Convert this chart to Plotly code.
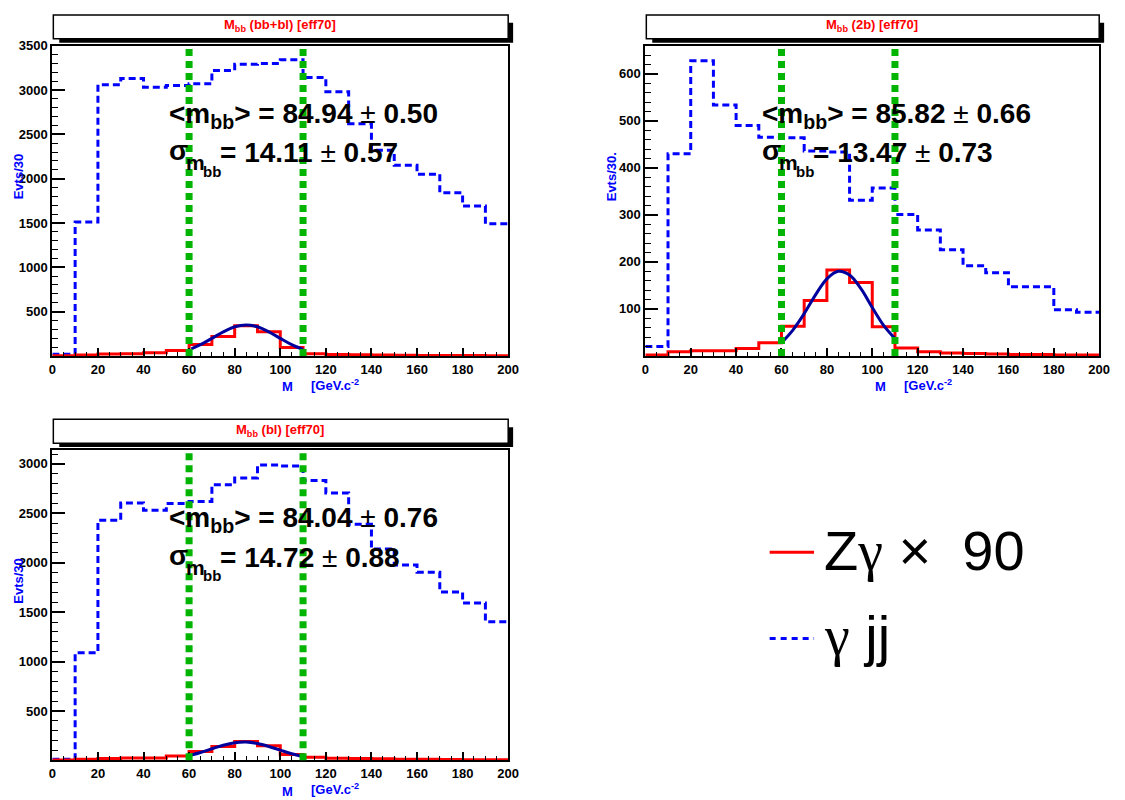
import plotly.graph_objects as go

# ---------------- data ----------------
BIN_EDGES = [0, 10, 20, 30, 40, 50, 60, 70, 80, 90, 100, 110, 120, 130, 140, 150, 160, 170, 180, 190, 200]

# panel 1 : Mbb (bb+bl)
GJJ_BBBL = [20, 1510, 3060, 3130, 3030, 3050, 3070, 3220, 3290, 3300, 3340, 3140, 2980, 2620, 2320, 2150, 2050, 1840, 1690, 1490]
ZG_BBBL = [2, 10, 22, 25, 35, 62, 130, 220, 340, 272, 96, 25, 15, 12, 10, 8, 6, 5, 4, 3]
FIT_BBBL_X = [61, 65, 70, 75, 80, 85, 90, 95, 100, 105, 110]
FIT_BBBL_Y = [80, 127, 198, 271, 329, 350, 329, 271, 198, 127, 73]

# panel 2 : Mbb (2b)
GJJ_2B = [20, 430, 628, 534, 490, 465, 464, 436, 434, 331, 357, 301, 268, 226, 192, 177, 147, 147, 98, 93]
ZG_2B = [2, 9, 11, 11, 16, 28, 63, 118, 183, 156, 62, 17, 9, 6, 5, 4, 3, 3, 2, 2]
FIT_2B_X = [61, 65, 70, 75, 80, 85, 90, 95, 100, 105, 110]
FIT_2B_Y = [33, 55, 90, 130, 164, 180, 172, 143, 103, 65, 37]

# panel 3 : Mbb (bl)
GJJ_BL = [10, 1090, 2430, 2605, 2530, 2600, 2620, 2790, 2857, 2990, 2980, 2833, 2706, 2389, 2138, 1977, 1904, 1704, 1593, 1403]
ZG_BL = [3, 10, 20, 25, 25, 45, 89, 139, 192, 149, 59, 32, 22, 18, 15, 12, 10, 8, 6, 5]
FIT_BL_X = [61, 65, 70, 75, 80, 85, 90, 95, 100, 105, 110]
FIT_BL_Y = [54, 80, 117, 153, 178, 185, 170, 140, 103, 67, 39]

CUTS = [60, 110]
X_TICKS = [0, 20, 40, 60, 80, 100, 120, 140, 160, 180, 200]

PANELS = [
    dict(title="M<sub>bb</sub> (bb+bl) [eff70]", gjj=GJJ_BBBL, zg=ZG_BBBL, fx=FIT_BBBL_X, fy=FIT_BBBL_Y,
         ymax=3500, yticks=[500, 1000, 1500, 2000, 2500, 3000, 3500], yminor=100, ytitle="Evts/30",
         mean="84.94", emean="0.50", sig="14.11", esig="0.57"),
    dict(title="M<sub>bb</sub> (2b) [eff70]", gjj=GJJ_2B, zg=ZG_2B, fx=FIT_2B_X, fy=FIT_2B_Y,
         ymax=660, yticks=[100, 200, 300, 400, 500, 600], yminor=20, ytitle="Evts/30.",
         mean="85.82", emean="0.66", sig="13.47", esig="0.73"),
    dict(title="M<sub>bb</sub> (bl) [eff70]", gjj=GJJ_BL, zg=ZG_BL, fx=FIT_BL_X, fy=FIT_BL_Y,
         ymax=3140, yticks=[500, 1000, 1500, 2000, 2500, 3000], yminor=100, ytitle="Evts/30",
         mean="84.04", emean="0.76", sig="14.72", esig="0.88"),
]

# ---------------- layout helpers ----------------
W, H = 1125, 800
FONT = "Liberation Sans"
GAMMA = "<span style=\"font-family:'Liberation Serif'\">γ</span>"
PM = "<span style=\"font-weight:normal\">±</span>"


def px(x):
    return x / W


def py(y):
    return 1 - y / H


# plot-frame pixel boxes: (left, right, top, bottom)
FRAMES = [(49, 511, 39, 352), (650, 1110, 39, 352), (49, 511, 447, 760)]

fig = go.Figure()
shapes = []
annotations = []

for i, (p, fr) in enumerate(zip(PANELS, FRAMES)):
    n = "" if i == 0 else str(i + 1)
    xa, ya = "x" + n, "y" + n
    L, R, T, B = fr

    steps_y_gjj = p["gjj"] + [p["gjj"][-1]]
    steps_y_zg = p["zg"] + [p["zg"][-1]]
    fig.add_trace(go.Scatter(x=BIN_EDGES, y=steps_y_gjj, mode="lines", line_shape="hv",
                             line=dict(color="#0000ff", width=3, dash="7px,4px"),
                             xaxis=xa, yaxis=ya, name="γ jj"))
    fig.add_trace(go.Scatter(x=BIN_EDGES, y=steps_y_zg, mode="lines", line_shape="hv",
                             line=dict(color="#ff0000", width=3),
                             xaxis=xa, yaxis=ya, name="Zγ × 90"))
    fig.add_trace(go.Scatter(x=p["fx"], y=p["fy"], mode="lines", line_shape="spline",
                             line=dict(color="#00009c", width=3),
                             xaxis=xa, yaxis=ya, name="fit"))

    axis_font = dict(family=FONT, size=13, color="black", weight="bold")
    fig.update_layout(**{
        ("xaxis" + n): dict(domain=[px(L), px(R)], range=[0, 200], anchor=ya,
                            tickmode="array", tickvals=X_TICKS, ticks="inside", ticklen=8,
                            tickwidth=1.5, tickcolor="black", showline=True, mirror=True,
                            linecolor="black", linewidth=2, showgrid=False, zeroline=False,
                            tickfont=axis_font,
                            minor=dict(tickmode="linear", tick0=0, dtick=5, ticks="inside",
                                       ticklen=4, tickcolor="black", tickwidth=1, showgrid=False)),
        ("yaxis" + n): dict(domain=[py(B), py(T)], range=[0, p["ymax"]], anchor=xa,
                            tickmode="array", tickvals=p["yticks"], ticks="inside", ticklen=13,
                            tickwidth=1.5, tickcolor="black", showline=True, mirror=True,
                            linecolor="black", linewidth=2, showgrid=False, zeroline=False,
                            tickfont=axis_font,
                            minor=dict(tickmode="linear", tick0=0, dtick=p["yminor"], ticks="inside",
                                       ticklen=6, tickcolor="black", tickwidth=1, showgrid=False)),
    })

    # cut lines
    for c in CUTS:
        shapes.append(dict(type="line", xref=xa, yref=ya + " domain", x0=c, x1=c, y0=0, y1=1,
                           line=dict(color="#00b400", width=7, dash="7px,5px"), layer="above"))

    # title box with shadow
    tb_top = T - 31
    tb_bot = T - 7
    shapes.append(dict(type="rect", xref="paper", yref="paper",
                       x0=px(L + 7), x1=px(R + 5), y0=py(tb_bot + 4), y1=py(tb_top + 8),
                       fillcolor="black", line=dict(width=0), layer="above"))
    shapes.append(dict(type="rect", xref="paper", yref="paper",
                       x0=px(L + 1), x1=px(R), y0=py(tb_bot), y1=py(tb_top),
                       fillcolor="white", line=dict(color="black", width=1.5), layer="above"))
    annotations.append(dict(xref="paper", yref="paper", x=px((L + R) / 2), y=py(tb_top + 11),
                            text=p["title"], showarrow=False, xanchor="center", yanchor="middle",
                            font=dict(family=FONT, size=13, color="#ff0000", weight="bold")))

    # axis titles
    annotations.append(dict(xref="paper", yref="paper", x=px(L + 231), y=py(B + 31),
                            text="M", showarrow=False, xanchor="left", yanchor="middle",
                            font=dict(family=FONT, size=13, color="#0000ff", weight="bold")))
    annotations.append(dict(xref="paper", yref="paper", x=px(L + 260), y=py(B + 29),
                            text="[GeV.c<sup>-2</sup>", showarrow=False, xanchor="left", yanchor="middle",
                            font=dict(family=FONT, size=13, color="#0000ff", weight="bold")))
    annotations.append(dict(xref="paper", yref="paper", x=px(L - 34), y=py(T + 132),
                            text=p["ytitle"], showarrow=False, textangle=-90,
                            xanchor="center", yanchor="middle",
                            font=dict(family=FONT, size=13, color="#0000ff", weight="bold")))

    # fit results
    sx = L + 116
    big = dict(family=FONT, size=28, color="black", weight="bold")
    annotations.append(dict(xref="paper", yref="paper", x=px(sx), y=py(T + 70),
                            text="<m<sub>bb</sub>> = " + p["mean"] + " " + PM + " " + p["emean"],
                            showarrow=False, xanchor="left", yanchor="middle", font=big))
    annotations.append(dict(xref="paper", yref="paper", x=px(sx), y=py(T + 106),
                            text="σ", showarrow=False, xanchor="left", yanchor="middle", font=big))
    annotations.append(dict(xref="paper", yref="paper", x=px(sx + 17), y=py(T + 118),
                            text="m", showarrow=False, xanchor="left", yanchor="middle",
                            font=dict(family=FONT, size=21, color="black", weight="bold")))
    annotations.append(dict(xref="paper", yref="paper", x=px(sx + 35), y=py(T + 127),
                            text="bb", showarrow=False, xanchor="left", yanchor="middle",
                            font=dict(family=FONT, size=15, color="black", weight="bold")))
    annotations.append(dict(xref="paper", yref="paper", x=px(sx + 52), y=py(T + 108),
                            text="= " + p["sig"] + " " + PM + " " + p["esig"],
                            showarrow=False, xanchor="left", yanchor="middle", font=big))

# legend (drawn manually)
shapes.append(dict(type="line", xref="paper", yref="paper", x0=px(776), x1=px(821), y0=py(550), y1=py(550),
                   line=dict(color="#ff0000", width=3)))
shapes.append(dict(type="line", xref="paper", yref="paper", x0=px(776), x1=px(821), y0=py(637), y1=py(637),
                   line=dict(color="#0000ff", width=3, dash="6px,5px")))
annotations.append(dict(xref="paper", yref="paper", x=px(829), y=py(548), text="Z" + GAMMA + " ×  90",
                        showarrow=False, xanchor="left", yanchor="middle",
                        font=dict(family=FONT, size=56, color="black")))
annotations.append(dict(xref="paper", yref="paper", x=px(829), y=py(634), text=GAMMA + " jj",
                        showarrow=False, xanchor="left", yanchor="middle",
                        font=dict(family=FONT, size=56, color="black")))

fig.update_layout(width=W, height=H, margin=dict(l=0, r=0, t=0, b=0),
                  paper_bgcolor="white", plot_bgcolor="white", showlegend=False,
                  shapes=shapes, annotations=annotations)

fig.write_html("out.html", config={"displayModeBar": False},
               post_script="document.body.style.margin='0';document.body.style.overflow='hidden';")
